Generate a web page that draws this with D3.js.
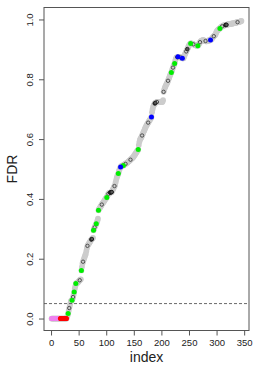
<!DOCTYPE html>
<html>
<head>
<meta charset="utf-8">
<script src="https://cdn.jsdelivr.net/npm/d3@7"></script>
<style>
  body { margin: 0; background: #fff; }
  svg text { font-family: "Liberation Sans", Arial, sans-serif; fill: #222; }
</style>
</head>
<body>
<svg id="fdr_plot"></svg>
<script>
// FDR value for each index (1..345)
var fdr = [
  0,0,0,0,0,0,0,0,0,0,
  0,0,0,0,0,0,0,0,0,0,
  0,0,0,0,0,0,0,0,0.004,0.010,
  0.017,0.026,0.035,0.043,0.051,0.058,0.060,0.061,0.066,0.072,
  0.080,0.089,0.100,0.108,0.117,0.118,0.119,0.120,0.122,0.124,
  0.126,0.128,0.130,0.131,0.161,0.173,0.184,0.190,0.196,0.201,
  0.207,0.212,0.217,0.226,0.235,0.243,0.246,0.249,0.252,0.255,
  0.258,0.261,0.264,0.266,0.268,0.270,0.295,0.300,0.305,0.309,
  0.313,0.317,0.321,0.327,0.334,0.362,0.366,0.369,0.372,0.375,
  0.378,0.381,0.384,0.386,0.389,0.392,0.395,0.398,0.401,0.403,
  0.405,0.410,0.414,0.417,0.419,0.420,0.421,0.422,0.422,0.423,
  0.427,0.431,0.435,0.439,0.443,0.446,0.455,0.463,0.470,0.476,
  0.481,0.485,0.492,0.498,0.503,0.507,0.509,0.510,0.511,0.512,
  0.512,0.513,0.515,0.516,0.517,0.519,0.520,0.521,0.523,0.524,
  0.526,0.528,0.529,0.531,0.533,0.535,0.536,0.538,0.540,0.543,
  0.546,0.548,0.551,0.554,0.557,0.560,0.562,0.565,0.580,0.590,
  0.597,0.601,0.604,0.607,0.612,0.616,0.621,0.625,0.629,0.634,
  0.638,0.642,0.646,0.649,0.652,0.655,0.658,0.661,0.664,0.667,
  0.670,0.674,0.690,0.700,0.708,0.712,0.716,0.719,0.721,0.722,
  0.723,0.724,0.724,0.724,0.724,0.724,0.724,0.724,0.724,0.724,
  0.724,0.725,0.730,0.758,0.764,0.770,0.775,0.779,0.783,0.786,
  0.790,0.795,0.800,0.805,0.810,0.815,0.819,0.823,0.828,0.834,
  0.839,0.844,0.849,0.853,0.861,0.867,0.872,0.873,0.874,0.875,
  0.875,0.875,0.875,0.874,0.873,0.872,0.871,0.870,0.870,0.870,
  0.875,0.880,0.885,0.889,0.893,0.897,0.901,0.905,0.909,0.913,
  0.916,0.918,0.920,0.920,0.919,0.918,0.918,0.917,0.916,0.916,
  0.915,0.914,0.913,0.913,0.912,0.912,0.915,0.918,0.921,0.924,
  0.926,0.928,0.929,0.930,0.931,0.931,0.930,0.929,0.928,0.928,
  0.927,0.927,0.928,0.929,0.929,0.930,0.930,0.931,0.931,0.933,
  0.935,0.937,0.940,0.942,0.944,0.946,0.947,0.950,0.955,0.959,
  0.962,0.964,0.966,0.968,0.969,0.970,0.972,0.974,0.976,0.977,
  0.978,0.979,0.980,0.980,0.981,0.981,0.982,0.982,0.983,0.983,
  0.984,0.984,0.985,0.985,0.985,0.986,0.986,0.986,0.987,0.987,
  0.987,0.988,0.988,0.989,0.989,0.990,0.990,0.991,0.991,0.992,
  0.992,0.993,0.993,0.994,0.995
]

// highlighted indices (1-based)
var violetIdx = [1,2,3,4,5,6,7,8,9,10,11,12,13,14,15,16]
var redIdx = [17,18,19,20,21,22,23,24,25,26,27,28]
var greenIdx = [31,38,42,45,55,77,82,86,101,122,131,158,218,224,253,266,306]
var blueIdx = [126,182,230,238,289]
var openIdx = [33,40,52,58,66,79,92,104,115,135,144,165,176,192,204,212,
               221,235,245,258,270,280,295,310,338]
var darkIdx = [73,74,107,108,109,110,188,189,229,247,316,317,318]

var xTicks = [0, 50, 100, 150, 200, 250, 300, 350]
var yTicks = [0, 0.2, 0.4, 0.6, 0.8, 1.0]
var cutoff = 0.05

var W = 258, H = 366
var svg = d3.select("#fdr_plot").attr("width", W).attr("height", H)

var n = fdr.length
var pad = (n - 1) * 0.04
var xScale = d3.scaleLinear().domain([1 - pad, n + pad]).range([44, 249])
var yScale = d3.scaleLinear().domain([-0.04, 1.04]).range([330.5, 7.5])

var data = fdr.map(function(v, i) { return { idx: i + 1, fdr: v } })
function pick(list) { return list.map(function(i) { return data[i - 1] }) }

// gray base points
svg.append("g").selectAll("circle")
    .data(data)
    .join("circle")
    .attr("cx", function(d) { return xScale(d.idx) })
    .attr("cy", function(d) { return yScale(d.fdr) })
    .attr("r", 2.9)
    .attr("fill", "#cccccc")

// black open circles
svg.append("g").selectAll("circle")
    .data(pick(openIdx))
    .join("circle")
    .attr("cx", function(d) { return xScale(d.idx) })
    .attr("cy", function(d) { return yScale(d.fdr) })
    .attr("r", 1.7)
    .attr("fill", "none")
    .attr("stroke", "#333")
    .attr("stroke-width", 0.8)

// darker clusters
svg.append("g").selectAll("circle")
    .data(pick(darkIdx))
    .join("circle")
    .attr("cx", function(d) { return xScale(d.idx) })
    .attr("cy", function(d) { return yScale(d.fdr) })
    .attr("r", 1.8)
    .attr("fill", "#555")
    .attr("stroke", "#111")
    .attr("stroke-width", 0.8)

function colored(list, col) {
    svg.append("g").selectAll("circle")
        .data(pick(list))
        .join("circle")
        .attr("cx", function(d) { return xScale(d.idx) })
        .attr("cy", function(d) { return yScale(d.fdr) })
        .attr("r", 2.5)
        .attr("fill", col)
}
colored(violetIdx, "#ee82ee")
colored(redIdx, "#ff0000")
colored(greenIdx, "#00ee00")
colored(blueIdx, "#0000ff")

// dashed cutoff line
svg.append("line")
    .attr("x1", 44).attr("x2", 249)
    .attr("y1", yScale(cutoff)).attr("y2", yScale(cutoff))
    .attr("stroke", "#444")
    .attr("stroke-width", 0.8)
    .attr("stroke-dasharray", "3,2")

// box
svg.append("rect")
    .attr("x", 44).attr("y", 7.5)
    .attr("width", 205).attr("height", 323)
    .attr("fill", "none")
    .attr("stroke", "#555")
    .attr("stroke-width", 1)

// X axis
var xAxis = svg.append("g")
    .attr("transform", "translate(0,330.5)")
    .call(d3.axisBottom(xScale).tickValues(xTicks).tickFormat(d3.format("d"))
        .tickSize(5).tickPadding(4).tickSizeOuter(0))
xAxis.select(".domain").remove()
xAxis.selectAll("line").attr("stroke", "#555")
xAxis.selectAll("text").style("font-size", "9.5px").attr("fill", "#222")

// Y axis
var yAxis = svg.append("g")
    .attr("transform", "translate(44,0)")
    .call(d3.axisLeft(yScale).tickValues(yTicks).tickFormat(d3.format(".1f"))
        .tickSize(5).tickSizeOuter(0))
yAxis.select(".domain").remove()
yAxis.selectAll("line").attr("stroke", "#555")
yAxis.selectAll("text")
    .style("font-size", "9.5px")
    .attr("fill", "#222")
    .attr("text-anchor", "middle")
    .attr("transform", "rotate(-90)")
    .attr("x", 0).attr("y", -10.7).attr("dy", 0)

// axis titles
svg.append("text")
    .attr("x", 146.5).attr("y", 361.5)
    .attr("text-anchor", "middle")
    .style("font-size", "14px")
    .text("index")

svg.append("text")
    .attr("transform", "translate(16.5,169) rotate(-90)")
    .attr("text-anchor", "middle")
    .style("font-size", "14px")
    .text("FDR")
</script>
</body>
</html>
